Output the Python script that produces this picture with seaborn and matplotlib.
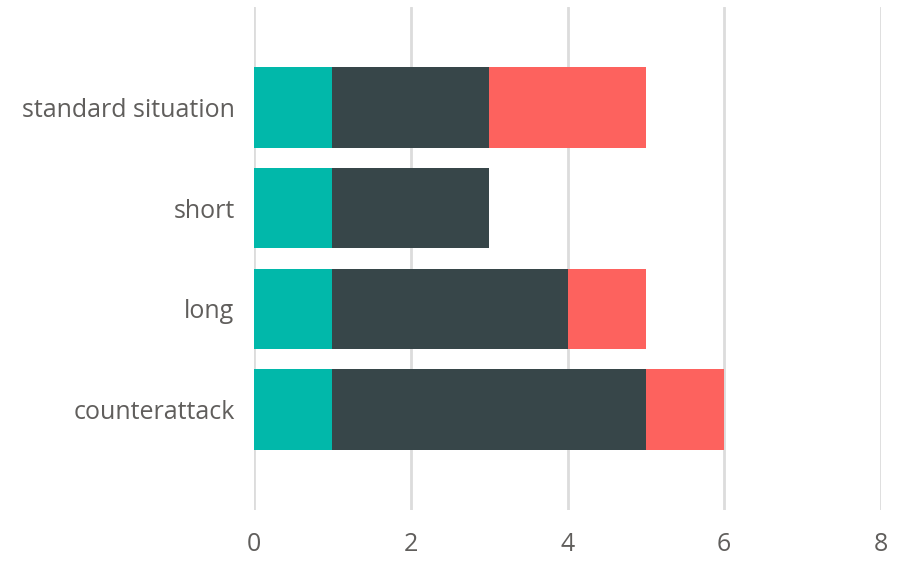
import numpy as np
import pandas as pd
import seaborn as sns
import matplotlib.pyplot as plt

# Values
categories = ['standard situation', 'short', 'long', 'counterattack']
series_a = [1, 1, 1, 1]   # teal
series_b = [2, 2, 3, 4]   # dark
series_c = [2, 0, 1, 1]   # red
x_ticks = [0, 2, 4, 6, 8]

colors = ['#01B8AA', '#374649', '#FD625E']

sns.set_style('white')
plt.rcParams['font.family'] = ['Open Sans', 'DejaVu Sans']

# Stack by cumulative sums, drawn back to front
cum_a = np.array(series_a)
cum_b = cum_a + np.array(series_b)
cum_c = cum_b + np.array(series_c)

df = pd.DataFrame({'category': categories, 'a': cum_a, 'b': cum_b, 'c': cum_c})

fig = plt.figure(figsize=(8.97, 5.61), dpi=100)
ax = fig.add_axes([254 / 897, 1 - 510 / 561, (881 - 254) / 897, (510 - 7) / 561])

for col, color in zip(['c', 'b', 'a'], colors[::-1]):
    sns.barplot(data=df, y='category', x=col, color=color, orient='h',
                width=0.8, saturation=1, linewidth=0, ax=ax, zorder=3)

ax.set_xlim(0, 8)
ax.set_ylim(4, -1)
ax.set_xticks(x_ticks)
ax.grid(axis='x', color='#DCDCDC', linewidth=2, zorder=0)
ax.set_axisbelow(True)
ax.set_xlabel('')
ax.set_ylabel('')
sns.despine(ax=ax, left=True, bottom=True)
ax.tick_params(axis='both', length=0, labelsize=18, colors='#605E5C')
ax.tick_params(axis='x', pad=16)
ax.tick_params(axis='y', pad=14)

fig.savefig('out.png', dpi=100)
